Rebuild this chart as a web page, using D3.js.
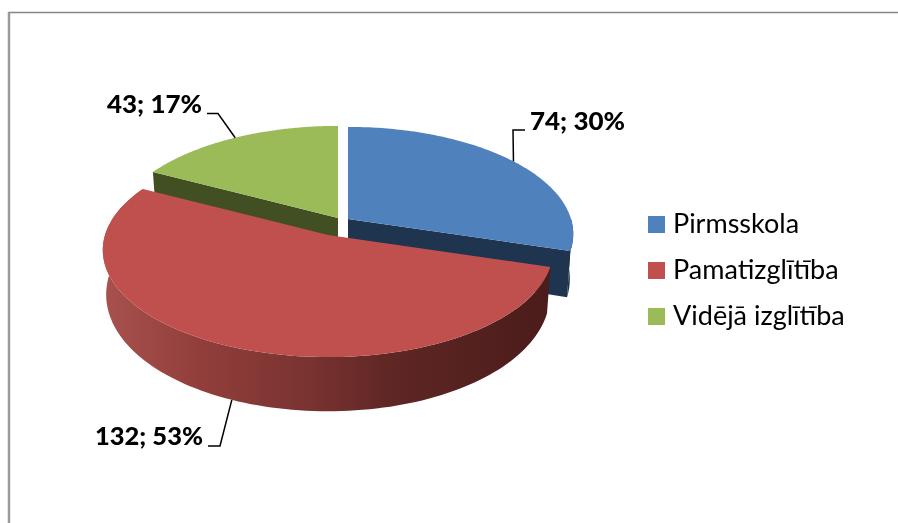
<!DOCTYPE html>
<html>
<head>
<meta charset="utf-8">
<script src="https://cdn.jsdelivr.net/npm/d3@7"></script>
<style>
  html, body { margin: 0; padding: 0; background: #fff; }
  svg { display: block; filter: blur(0.45px); }
</style>
</head>
<body>
<div id="chart"></div>
<script>
// data
const categories = ['Pirmsskola', 'Pamatizglītība', 'Vidējā izglītība'];
const values = [74, 132, 43];
const topColors = ['#4f81bd', '#bf504d', '#9bbb59'];
const cutColors = ['#1f344f', '#4a1c1a', '#414f22'];

const width = 898, height = 523;
const radius = 223, flat = 105, persp = 0.14;   // disc size and perspective
const shrink = 0.985, depth = 43, depthSlope = 13;

// exploded slice apex on screen, same order as categories
const apexX = [348, 328, 338];
const apexY = [219, 235, 218];
const labelX = [530, 95, 107];
const labelY = [130, 445, 113];
const labelW = [95, 108, 95];

const svg = d3.select('#chart').append('svg')
  .attr('width', width)
  .attr('height', height);

// chart frame: only top and left edges show
svg.append('line').attr('x1', 8).attr('x2', 898).attr('y1', 12.5).attr('y2', 12.5)
  .attr('stroke', '#868686').attr('stroke-width', 1.5);
svg.append('line').attr('x1', 9).attr('x2', 9).attr('y1', 12).attr('y2', 523)
  .attr('stroke', '#9a9a9a').attr('stroke-width', 2.5);

const grad = svg.append('defs').append('linearGradient')
  .attr('id', 'redWall')
  .attr('gradientUnits', 'userSpaceOnUse')
  .attr('x1', 103).attr('x2', 553).attr('y1', 0).attr('y2', 0);
[[0, '#a8524f'], [0.2, '#933f3c'], [0.45, '#7a3331'], [0.65, '#5e2624'], [1, '#4a1c1a']]
  .forEach(s => grad.append('stop').attr('offset', s[0]).attr('stop-color', s[1]));

const total = d3.sum(values);
const slices = d3.pie().sort(null).value(d => d)(values);
const line = d3.line();

// top of the disc, angle clockwise from the back
function topPoint (i, a, r = 1) {
  const X = r * Math.sin(a), Y = r * Math.cos(a), w = 1 + persp * Y;
  return [apexX[i] + radius * X / w, apexY[i] - flat * Y / w];
}
// same point on the bottom of the disc
function basePoint (i, a, r = 1) {
  const X = r * Math.sin(a), Y = r * Math.cos(a), w = 1 + persp * Y;
  return [
    apexX[i] + shrink * radius * X / w,
    apexY[i] - shrink * flat * Y / w + depth - depthSlope * Y
  ];
}
const arcAngles = (a0, a1) => d3.range(0, 121).map(k => a0 + (a1 - a0) * k / 120);

function drawCutFace (i, a, color) {
  svg.append('path')
    .attr('d', line([topPoint(i, a, 0), topPoint(i, a), basePoint(i, a), basePoint(i, a, 0)]) + 'Z')
    .attr('fill', color);
}
function drawWall (i, a0, a1, fill) {
  const angles = arcAngles(a0, a1);
  const pts = angles.map(a => topPoint(i, a)).concat(angles.reverse().map(a => basePoint(i, a)));
  svg.append('path').attr('d', line(pts) + 'Z').attr('fill', fill);
}
function drawTop (i) {
  const s = slices[i];
  const pts = [topPoint(i, 0, 0)].concat(arcAngles(s.startAngle, s.endAngle).map(a => topPoint(i, a)));
  svg.append('path').attr('d', line(pts) + 'Z').attr('fill', topColors[i]);
}

// back to front: blue, green, then the big red slice
drawWall(0, Math.PI / 2, slices[0].endAngle, cutColors[0]);
drawCutFace(0, slices[0].endAngle, cutColors[0]);
drawTop(0);
drawCutFace(2, slices[2].startAngle, cutColors[2]);
drawTop(2);
drawWall(1, slices[1].startAngle, slices[1].endAngle, 'url(#redWall)');
drawTop(1);

// leader lines start on the rim at the slice middle
const mid = s => (s.startAngle + s.endAngle) / 2;
const leaders = [
  [topPoint(0, mid(slices[0])), [513, 130], [525, 130]],
  [basePoint(1, mid(slices[1])), [220, 446], [208, 446]],
  [topPoint(2, mid(slices[2])), [218, 113.5], [207, 113.5]]
];
leaders.forEach(l => {
  svg.append('path').attr('d', line(l))
    .attr('fill', 'none').attr('stroke', '#000').attr('stroke-width', 1.5);
});

svg.selectAll('text.lbl')
  .data(values)
  .enter().append('text')
    .attr('class', 'lbl')
    .attr('x', (d, i) => labelX[i])
    .attr('y', (d, i) => labelY[i])
    .attr('textLength', (d, i) => labelW[i])
    .attr('lengthAdjust', 'spacingAndGlyphs')
    .style('font-family', 'Lato, sans-serif')
    .style('font-weight', '900')
    .style('font-size', '25.5px')
    .style('fill', '#000')
    .text(d => `${d}; ${Math.round(d / total * 100)}%`);

// legend
const legendY = d3.scalePoint().domain(categories).range([233, 325]);
const legend = svg.selectAll('g.legend')
  .data(categories)
  .enter().append('g')
    .attr('class', 'legend');
legend.append('rect')
  .attr('x', 648).attr('width', 17).attr('height', 17)
  .attr('y', d => legendY(d) - 17)
  .attr('fill', (d, i) => topColors[i]);
legend.append('text')
  .attr('x', 673)
  .attr('y', d => legendY(d))
  .style('font-family', 'Lato, sans-serif')
  .style('font-size', '27px')
  .style('fill', '#000')
  .text(d => d);
</script>
</body>
</html>
